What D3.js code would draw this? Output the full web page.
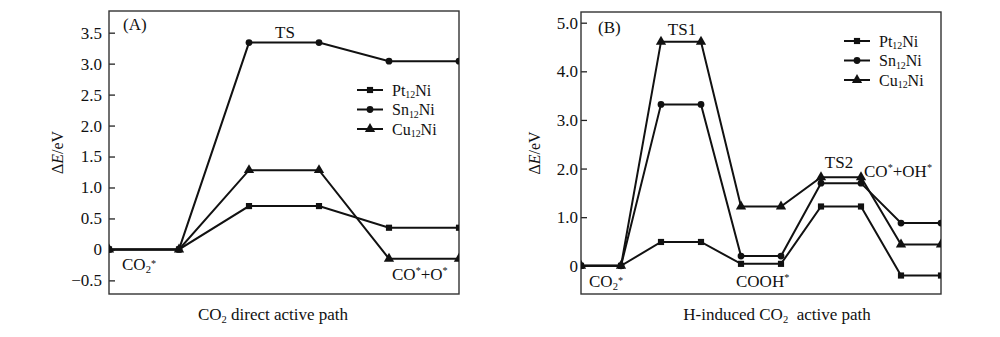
<!DOCTYPE html>
<html>
<head>
<meta charset="utf-8">
<script src="https://cdn.jsdelivr.net/npm/d3@7"></script>
<style>
  html, body { margin: 0; padding: 0; background: #fff; }
  svg { display: block; font-family: "Liberation Serif", "Times New Roman", serif; }
</style>
</head>
<body>
<svg id="chart" width="1000" height="337"></svg>
<script>
// Reaction energy profiles (ΔE in eV) along each path; each state is a flat level of two points.
const seriesNames = ["Pt12Ni", "Sn12Ni", "Cu12Ni"];
const seriesSymbols = ["square", "circle", "triangle"];

// (A) CO2 direct activation: CO2*, TS, CO*+O*
const ptA = [0, 0, 0.70, 0.70, 0.35, 0.35];
const snA = [0, 0, 3.34, 3.34, 3.04, 3.04];
const cuA = [0, 0, 1.28, 1.28, -0.15, -0.15];
const yTicksA = [-0.5, 0, 0.5, 1.0, 1.5, 2.0, 2.5, 3.0, 3.5];

// (B) H-induced CO2 activation: CO2*, TS1, COOH*, TS2, CO*+OH*
const ptB = [0, 0, 0.49, 0.49, 0.04, 0.04, 1.22, 1.22, -0.20, -0.20];
const snB = [0, 0, 3.32, 3.32, 0.20, 0.20, 1.70, 1.70, 0.88, 0.88];
const cuB = [0, 0, 4.61, 4.61, 1.22, 1.22, 1.82, 1.82, 0.44, 0.44];
const yTicksB = [0, 1.0, 2.0, 3.0, 4.0, 5.0];

const svg = d3.select("#chart");

function fmtTick(v) {
  if (v === 0) return "0";
  const s = v.toFixed(1);
  return v < 0 ? "\u2212" + s.slice(1) : s;
}

function symbolPath(kind) {
  if (kind === "square") return d3.symbol(d3.symbolSquare, 38)();
  if (kind === "circle") return d3.symbol(d3.symbolCircle, 36)();
  return d3.symbol(d3.symbolTriangle, 46)();
}

// Append rich text pieces: {t, sub, sup, it}
function richText(g, x, y, parts, size, anchor) {
  const t = g.append("text")
    .attr("x", x).attr("y", y)
    .attr("font-size", size)
    .attr("fill", "#111")
    .attr("text-anchor", anchor || "start");
  parts.forEach(p => {
    const span = t.append("tspan").text(p.t);
    if (p.sub) span.attr("font-size", size * 0.62).attr("dy", size * 0.18);
    else if (p.sup) span.attr("font-size", size * 0.6).attr("dy", -size * 0.38);
    else if (p.back) span.attr("dy", p.back);
    if (p.it) span.attr("font-style", "italic");
  });
  return t;
}

function panel(cfg) {
  const g = svg.append("g");
  const x = d3.scaleLinear().domain([0, cfg.series[0].length - 1]).range([cfg.left, cfg.right]);
  const y = d3.scaleLinear().domain(cfg.yDomain).range([cfg.bottom, cfg.top]);

  const clipId = "clip-" + cfg.id;
  svg.append("clipPath").attr("id", clipId)
    .append("rect")
    .attr("x", cfg.left).attr("y", cfg.top)
    .attr("width", cfg.right - cfg.left).attr("height", cfg.bottom - cfg.top);

  // y axis with inward ticks
  const axis = d3.axisLeft(y).tickValues(cfg.yTicks).tickFormat(fmtTick)
    .tickSize(-6).tickPadding(cfg.tickPad);
  const ag = g.append("g").attr("transform", `translate(${cfg.left},0)`).call(axis);
  ag.select(".domain").remove();
  ag.selectAll(".tick line").attr("stroke", "#222").attr("stroke-width", 1.3);
  ag.selectAll(".tick text")
    .attr("font-size", 17)
    .attr("font-family", "Liberation Serif, Times New Roman, serif")
    .attr("fill", "#111");

  // plot frame
  g.append("rect")
    .attr("x", cfg.left).attr("y", cfg.top)
    .attr("width", cfg.right - cfg.left).attr("height", cfg.bottom - cfg.top)
    .attr("fill", "none").attr("stroke", "#333").attr("stroke-width", 1.4);

  const plot = g.append("g").attr("clip-path", `url(#${clipId})`);
  const line = d3.line().x((d, i) => x(i)).y(d => y(d));

  cfg.series.forEach((vals, si) => {
    plot.append("path").datum(vals)
      .attr("d", line)
      .attr("fill", "none").attr("stroke", "#111").attr("stroke-width", 2);
    plot.selectAll(null).data(vals).enter().append("path")
      .attr("d", symbolPath(seriesSymbols[si]))
      .attr("transform", (d, i) => `translate(${x(i)},${y(d)})`)
      .attr("fill", "#111");
  });

  // legend
  const lg = g.append("g");
  seriesNames.forEach((name, i) => {
    const ly = cfg.legend.y + i * cfg.legend.dy;
    lg.append("line")
      .attr("x1", cfg.legend.x).attr("x2", cfg.legend.x + 26)
      .attr("y1", ly).attr("y2", ly)
      .attr("stroke", "#111").attr("stroke-width", 2);
    lg.append("path").attr("d", symbolPath(seriesSymbols[i]))
      .attr("transform", `translate(${cfg.legend.x + 13},${ly})`).attr("fill", "#111");
    const base = name.replace("12Ni", "");
    richText(lg, cfg.legend.x + 35, ly + 5.5,
      [{ t: base }, { t: "12", sub: true }, { t: "Ni", back: -16 * 0.18 }], 16);
  });

  // y title: ΔE/eV
  const yt = g.append("text")
    .attr("transform", `translate(${cfg.yTitleX},${(cfg.top + cfg.bottom) / 2}) rotate(-90)`)
    .attr("text-anchor", "middle").attr("font-size", 16).attr("fill", "#111");
  yt.append("tspan").text("\u0394");
  yt.append("tspan").text("E").attr("font-style", "italic");
  yt.append("tspan").text("/eV");

  // x title
  richText(g, cfg.xTitle.x, 320, cfg.xTitle.parts, 17, "middle");

  // state labels
  cfg.labels.forEach(l => richText(g, l.x, l.y, l.parts, 17, l.anchor));
  return g;
}

const star = { t: "*", sup: true };

panel({
  id: "a",
  left: 109, right: 459, top: 11, bottom: 294,
  yDomain: [-0.72, 3.85], yTicks: yTicksA, tickPad: 7,
  series: [ptA, snA, cuA],
  legend: { x: 357, y: 90, dy: 19.5 },
  yTitleX: 63,
  xTitle: { x: 273, parts: [{ t: "CO" }, { t: "2", sub: true }, { t: " direct active path", back: -17 * 0.18 }] },
  labels: [
    { x: 123, y: 30, parts: [{ t: "(A)" }] },
    { x: 285, y: 38, anchor: "middle", parts: [{ t: "TS" }] },
    { x: 122, y: 270, parts: [{ t: "CO" }, { t: "2", sub: true }, { t: "*", sup: true }] },
    { x: 392, y: 280, parts: [{ t: "CO" }, star, { t: "+O", back: 17 * 0.38 }, star] }
  ]
});

panel({
  id: "b",
  left: 581, right: 941, top: 12, bottom: 294,
  yDomain: [-0.58, 5.22], yTicks: yTicksB, tickPad: 3,
  series: [ptB, snB, cuB],
  legend: { x: 844, y: 41, dy: 19.5 },
  yTitleX: 540,
  xTitle: { x: 777, parts: [{ t: "H-induced CO" }, { t: "2", sub: true }, { t: "\u00a0 active path", back: -17 * 0.18 }] },
  labels: [
    { x: 598, y: 33, parts: [{ t: "(B)" }] },
    { x: 682, y: 35, anchor: "middle", parts: [{ t: "TS1" }] },
    { x: 839, y: 168, anchor: "middle", parts: [{ t: "TS2" }] },
    { x: 864, y: 177, parts: [{ t: "CO" }, star, { t: "+OH", back: 17 * 0.38 }, star] },
    { x: 589, y: 287, parts: [{ t: "CO" }, { t: "2", sub: true }, { t: "*", sup: true }] },
    { x: 736, y: 287, parts: [{ t: "COOH" }, star] }
  ]
});
</script>
</body>
</html>
